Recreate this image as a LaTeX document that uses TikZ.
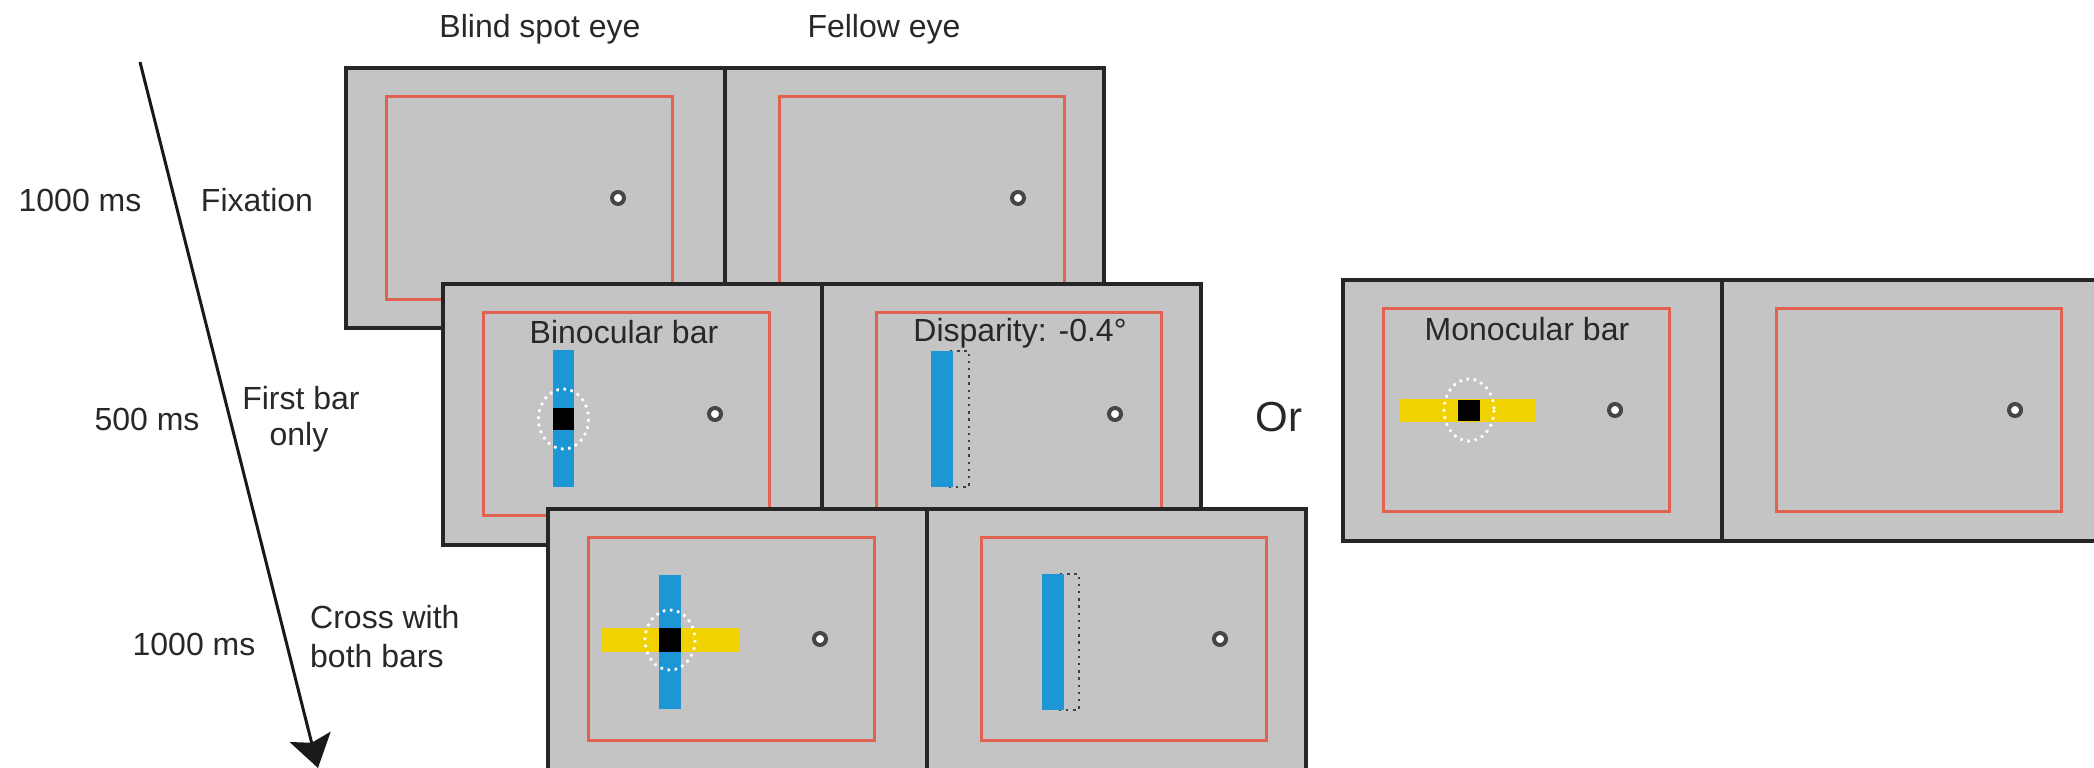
\documentclass[tikz,border=0pt]{standalone}
\usepackage{fontspec}
\setmainfont{Liberation Sans}
\usetikzlibrary{arrows.meta}
\definecolor{panelgray}{RGB}{196,196,196}
\definecolor{redline}{RGB}{226,98,82}
\definecolor{barblue}{RGB}{28,150,212}
\definecolor{baryellow}{RGB}{240,210,0}
\definecolor{txt}{RGB}{40,40,40}
\definecolor{ringgray}{RGB}{70,70,70}
\newcommand{\screenpair}[4]{%
  \begin{scope}[shift={(#1,#2)}]
    \draw[outerbox] (0,0) rectangle (758,#3);
    \draw[redbox] (40,28) rectangle (326,231);
    \draw[redbox] (433,28) rectangle (718,231);
    \draw[divline] (379,0) -- (379,#3);
    \node[fixdot] (#4L) at (272,130) {};
    \node[fixdot] (#4R) at (672,130) {};
  \end{scope}}
\begin{document}
\begin{tikzpicture}[x=1pt,y=-1pt,
  outerbox/.style={fill=panelgray, draw=black!85, line width=4.5pt},
  divline/.style={draw=black!85, line width=4.5pt},
  redbox/.style={draw=redline, line width=3pt},
  fixdot/.style={circle, draw=ringgray, fill=white, line width=4pt, minimum size=12pt, inner sep=0pt},
  bluebar/.style={fill=barblue},
  yellowbar/.style={fill=baryellow},
  blackpatch/.style={fill=black},
  whitering/.style={draw=white, line width=2.8pt, dash pattern=on 2.6pt off 4.6pt},
  ghostline/.style={draw=black!75, line width=2.6pt, dash pattern=on 2.4pt off 4.8pt},
  lbl/.style={font=\fontsize{32}{38}\selectfont, text=txt, inner sep=0pt, anchor=base},
  timearrow/.style={draw=black!90, line width=3pt, -{Stealth[length=32pt, width=42pt, inset=6pt]}}
]
\useasboundingbox (0,0) rectangle (2094,768);
\clip (0,0) rectangle (2094,768);

% Row 1: fixation
\screenpair{346}{68}{260}{fixA}

% Row 2: first bar only
\screenpair{443}{284}{261}{fixB}
\begin{scope}[shift={(443,284)}]
  \fill[bluebar] (110,66) rectangle (131,203);
  \fill[blackpatch] (110,124) rectangle (131,146);
  \draw[whitering] (120.5,135) ellipse [x radius=25, y radius=30];
  \draw[ghostline] (505,67) rectangle (526,203);
  \fill[bluebar] (488,67) rectangle (510,203);
\end{scope}

% Row 3: cross with both bars
\screenpair{548}{509}{270}{fixC}
\begin{scope}[shift={(548,509)}]
  \fill[bluebar] (111,66) rectangle (133,200);
  \fill[yellowbar] (53,119) rectangle (191,143);
  \fill[blackpatch] (111,119) rectangle (133,143);
  \draw[whitering] (122,131) ellipse [x radius=25, y radius=30];
  \draw[ghostline] (510,65) rectangle (531,201);
  \fill[bluebar] (494,65) rectangle (516,201);
\end{scope}

% Alternative: monocular bar
\screenpair{1343}{280}{261}{fixD}
\begin{scope}[shift={(1343,280)}]
  \fill[yellowbar] (57,119) rectangle (193,142);
  \fill[blackpatch] (115,120) rectangle (137,141);
  \draw[whitering] (126,130) ellipse [x radius=25, y radius=31];
\end{scope}

% Time arrow
\coordinate (tstart) at (140,62);
\coordinate (tend) at (318,768);
\draw[timearrow] (tstart) -- (tend);

% Labels
\node[lbl] (hdrL) at (540,38) {Blind spot eye};
\node[lbl] (hdrR) at (884,38) {Fellow eye};
\node[lbl] (dur1) at (80,211) {1000 ms};
\node[lbl] (ev1) at (257,211) {Fixation};
\node[lbl] (dur2) at (147,430) {500 ms};
\node[lbl] (ev2a) at (301,409) {First bar};
\node[lbl] (ev2b) at (299,445) {only};
\node[lbl] (dur3) at (194,655) {1000 ms};
\node[lbl, anchor=base west] (ev3a) at (310,628) {Cross with};
\node[lbl, anchor=base west] (ev3b) at (310,667) {both bars};
\node[lbl] (binlbl) at (624,343) {Binocular bar};
\node[lbl] (displbl) at (1020,341) {Disparity: -0.4°};
\node[lbl] (monolbl) at (1527,340) {Monocular bar};
\node[lbl, font=\fontsize{42}{48}\selectfont] (orlbl) at (1279,431) {Or};
\end{tikzpicture}
\end{document}
